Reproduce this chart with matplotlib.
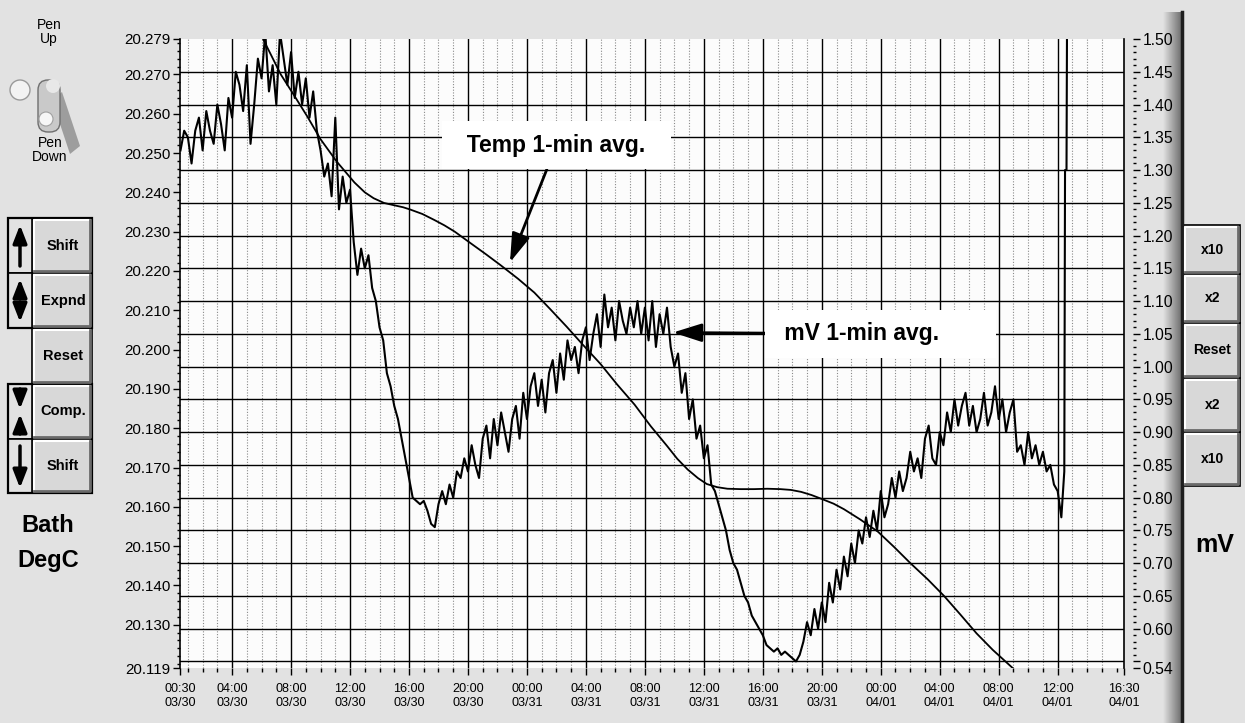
import numpy as np
import matplotlib
matplotlib.use("Agg")
import matplotlib.pyplot as plt
from matplotlib import font_manager
from matplotlib.patches import Rectangle, Circle, FancyBboxPatch, Polygon
from matplotlib.colors import LinearSegmentedColormap

# ---- data (x = hours since 03/30 00:00) ----
# mV 1-min avg, sampled every 0.25 h, one list per day
mv_0330_start = 0.5
mv_0330 = [1.33, 1.36,
           1.35, 1.31, 1.36, 1.38,
           1.33, 1.39, 1.36, 1.34,
           1.40, 1.37, 1.33, 1.41,
           1.38, 1.45, 1.43, 1.39,
           1.46, 1.34, 1.40, 1.47,
           1.44, 1.51, 1.42, 1.46,
           1.40, 1.51, 1.47, 1.43,
           1.48, 1.41, 1.45, 1.40,
           1.44, 1.38, 1.42, 1.36,
           1.33, 1.29, 1.31, 1.26,
           1.38, 1.24, 1.29, 1.25,
           1.27, 1.19, 1.14, 1.18,
           1.15, 1.17, 1.12, 1.10,
           1.06, 1.04, 0.99, 0.97,
           0.94, 0.92, 0.89, 0.86,
           0.83, 0.80, 0.795, 0.79,
           0.795, 0.78, 0.76, 0.755,
           0.79, 0.81, 0.79, 0.82,
           0.80, 0.84, 0.83, 0.86,
           0.84, 0.88, 0.85, 0.83,
           0.89, 0.91, 0.86, 0.92,
           0.88, 0.93, 0.90, 0.87,
           0.92, 0.94, 0.89, 0.96]
mv_0331_start = 24.0
mv_0331 = [0.92, 0.97, 0.99, 0.94,
           0.98, 0.93, 0.99, 1.01,
           0.96, 1.02, 0.98, 1.04,
           1.01, 1.03, 0.99, 1.04,
           1.06, 1.01, 1.05, 1.08,
           1.03, 1.11, 1.06, 1.09,
           1.04, 1.10, 1.07, 1.05,
           1.09, 1.06, 1.10, 1.05,
           1.09, 1.04, 1.10, 1.03,
           1.08, 1.05, 1.09, 1.03,
           1.00, 1.02, 0.96, 0.99,
           0.92, 0.95, 0.89, 0.91,
           0.86, 0.88, 0.82, 0.81,
           0.79, 0.77, 0.75, 0.72,
           0.70, 0.69, 0.67, 0.65,
           0.64, 0.62, 0.61, 0.60,
           0.59, 0.575, 0.57, 0.565,
           0.57, 0.56, 0.565, 0.56,
           0.555, 0.55, 0.56, 0.58,
           0.61, 0.59, 0.63, 0.60,
           0.64, 0.61, 0.67, 0.64,
           0.69, 0.66, 0.71, 0.68,
           0.73, 0.70, 0.75, 0.73,
           0.77, 0.74, 0.78, 0.75]
mv_0401_start = 48.0
mv_0401 = [0.81, 0.77, 0.79, 0.83,
           0.80, 0.84, 0.81, 0.83,
           0.87, 0.84, 0.86, 0.83,
           0.89, 0.91, 0.86, 0.85,
           0.90, 0.88, 0.93, 0.90,
           0.95, 0.91, 0.94, 0.96,
           0.91, 0.94, 0.90, 0.92,
           0.96, 0.91, 0.93, 0.97,
           0.92, 0.95, 0.90, 0.93,
           0.95, 0.87, 0.88, 0.85,
           0.90, 0.86, 0.88, 0.85,
           0.87, 0.84, 0.85, 0.82,
           0.81, 0.77]
mv_tail_h = [60.45, 60.50, 60.60, 60.65]
mv_tail = [0.84, 1.30, 1.30, 1.62]
mv_step = 0.25

# Temp 1-min avg (deg C)
temp_h = [5.6, 6.1, 6.7, 7.3, 8.2, 9.1, 10.0, 11.1, 12.3, 13.0, 13.6, 14.3, 15.0,
          15.6, 16.1, 16.9, 17.7, 18.4, 19.1, 20.2, 21.2, 22.2, 23.4, 24.5, 25.6,
          26.7, 27.8, 29.0, 30.1, 31.3, 32.4, 33.5, 34.2, 34.9, 35.6, 36.2, 36.9,
          37.6, 38.5, 39.4, 40.3, 41.2, 41.9, 42.6, 43.3, 44.0, 44.8, 45.5, 46.6,
          47.8, 48.9, 50.0, 51.2, 52.3, 53.4, 54.5, 55.6, 56.8, 57.7]
temp_c = [20.284, 20.279, 20.2745, 20.2700, 20.2647, 20.2593, 20.2535, 20.2478,
          20.2425, 20.2400, 20.2385, 20.2373, 20.2367, 20.2362, 20.2356, 20.2345,
          20.2330, 20.2316, 20.2300, 20.2270, 20.2243, 20.2215, 20.2180, 20.2145,
          20.2102, 20.2058, 20.2012, 20.1963, 20.1912, 20.1860, 20.1805, 20.1755,
          20.1722, 20.1695, 20.1673, 20.1658, 20.1650, 20.1646, 20.1645, 20.1645,
          20.1646, 20.1645, 20.1643, 20.1638, 20.1630, 20.1620, 20.1608, 20.1594,
          20.1568, 20.1537, 20.1498, 20.1457, 20.1415, 20.1373, 20.1326, 20.1278,
          20.1236, 20.1195, 20.1165]

xtick_hours = [0.5, 4, 8, 12, 16, 20, 24, 28, 32, 36, 40, 44, 48, 52, 56, 60, 64.5]
xtick_labels = ['00:30\n03/30', '04:00\n03/30', '08:00\n03/30', '12:00\n03/30',
                '16:00\n03/30', '20:00\n03/30', '00:00\n03/31', '04:00\n03/31',
                '08:00\n03/31', '12:00\n03/31', '16:00\n03/31', '20:00\n03/31',
                '00:00\n04/01', '04:00\n04/01', '08:00\n04/01', '12:00\n04/01',
                '16:30\n04/01']
temp_ticks = [20.119, 20.130, 20.140, 20.150, 20.160, 20.170, 20.180, 20.190,
              20.200, 20.210, 20.220, 20.230, 20.240, 20.250, 20.260, 20.270, 20.279]
mv_ticks = [0.54, 0.55, 0.60, 0.65, 0.70, 0.75, 0.80, 0.85, 0.90, 0.95, 1.00,
            1.05, 1.10, 1.15, 1.20, 1.25, 1.30, 1.35, 1.40, 1.45, 1.50]
mv_tick_labels = ['0.54', '', '0.60', '0.65', '0.70', '0.75', '0.80', '0.85', '0.90',
                  '0.95', '1.00', '1.05', '1.10', '1.15', '1.20', '1.25', '1.30',
                  '1.35', '1.40', '1.45', '1.50']

# ---- fonts ----
names = {f.name for f in font_manager.fontManager.ttflist}
NARROW = 'Liberation Sans Narrow' if 'Liberation Sans Narrow' in names else 'Liberation Sans'
SCALE = 1.0 if NARROW == 'Liberation Sans Narrow' else 0.87
plt.rcParams['font.family'] = ['Liberation Sans', 'DejaVu Sans']

BG = '#e2e2e2'
fig = plt.figure(figsize=(12.45, 7.23), dpi=100, facecolor=BG)

# ---- panel decorations in pixel coords ----
ui = fig.add_axes([0, 0, 1, 1], zorder=0)
ui.axis('off')


def button(x0, y0, x1, y1, label=None, fs=10.5):
    ui.add_patch(Rectangle((x0, y0), x1 - x0, y1 - y0, facecolor='#d8d8d8',
                           edgecolor='black', lw=1.2))
    ui.plot([x0 + 2, x0 + 2, x1 - 2], [y1 - 2, y0 + 2, y0 + 2], color='white', lw=1.5)
    ui.plot([x0 + 2, x1 - 2, x1 - 2], [y1 - 2, y1 - 2, y0 + 2], color='#6a6a6a', lw=2)
    if label:
        ui.text((x0 + x1) / 2 + 1, (y0 + y1) / 2, label, ha='center', va='center',
                fontsize=fs, fontweight='bold')


def icon_arrow(x, y_from, y_to):
    ui.annotate('', xy=(x, y_to), xytext=(x, y_from),
                arrowprops=dict(arrowstyle='-|>,head_length=0.9,head_width=0.35',
                                color='black', lw=2.5, mutation_scale=12,
                                shrinkA=0, shrinkB=0))


# pen switch
ui.text(49, 32, 'Pen\nUp', ha='center', va='center', fontsize=10, linespacing=1.0)
ui.add_patch(Polygon([(52, 100), (62, 92), (80, 146), (70, 154)],
                     facecolor='#8c8c8c', edgecolor='none', alpha=0.8))
ui.add_patch(Circle((20, 90), 10, facecolor='#f3f3f3', edgecolor='#9a9a9a', lw=1))
ui.add_patch(FancyBboxPatch((38, 80), 22, 52, boxstyle='round,pad=0,rounding_size=10',
                            facecolor='#c9c9c9', edgecolor='#6f6f6f', lw=1))
ui.add_patch(Circle((53, 86), 7, facecolor='#e8e8e8', edgecolor='none'))
ui.add_patch(Circle((46, 119), 7, facecolor='#f6f6f6', edgecolor='#a0a0a0', lw=0.8))
ui.text(50, 150, 'Pen\nDown', ha='center', va='center', fontsize=10, linespacing=1.0)

# left buttons
left_rows = [(218, 273, 'Shift'), (273, 328, 'Expnd'), (328, 384, 'Reset'),
             (384, 439, 'Comp.'), (439, 493, 'Shift')]
for y0, y1, lab in left_rows:
    button(32, y0, 92, y1, lab)
    if lab != 'Reset':
        ui.add_patch(Rectangle((8, y0), 24, y1 - y0, facecolor=BG, edgecolor='black', lw=1.2))
ui.add_patch(Rectangle((8, 218), 84, 110, facecolor='none', edgecolor='black', lw=1.6))
ui.add_patch(Rectangle((8, 384), 84, 109, facecolor='none', edgecolor='black', lw=1.6))
icon_arrow(20, 266, 225)
icon_arrow(20, 298, 279)
icon_arrow(20, 302, 322)
icon_arrow(20, 389, 409)
icon_arrow(20, 434, 414)
icon_arrow(20, 446, 488)
ui.text(48, 526, 'Bath', ha='center', va='center', fontsize=17, fontweight='bold')
ui.text(48, 561, 'DegC', ha='center', va='center', fontsize=17, fontweight='bold')

# right panel edge and buttons
shade = LinearSegmentedColormap.from_list('shade', [BG, '#6c6c6c'])
ui.imshow(np.linspace(0, 1, 60).reshape(1, -1), extent=(1163, 1182, 723, 12),
          cmap=shade, aspect='auto', zorder=0.5)
ui.plot([1182, 1182], [12, 723], color='#1e1e1e', lw=2.5)
right_rows = [(225, 274, 'x10'), (274, 323, 'x2'), (323, 378, 'Reset'),
              (378, 432, 'x2'), (432, 486, 'x10')]
for y0, y1, lab in right_rows:
    button(1183, y0, 1240, y1, lab, fs=10)
ui.text(1215, 545, 'mV', ha='center', va='center', fontsize=18, fontweight='bold')
ui.set_xlim(0, 1245)
ui.set_ylim(723, 0)

# ---- chart ----
ax = fig.add_axes([180.5 / 1245, (723 - 668) / 723, 943.5 / 1245, 629 / 723], zorder=1)
ax.set_facecolor('#fcfcfc')
ax2 = ax.twinx()

# grid
for h in range(1, 64):
    if h % 4:
        ax.axvline(h, color='#8a8a8a', lw=0.8, ls=(0, (1, 1.5)), zorder=0.4)
for h in range(4, 61, 4):
    ax.axvline(h, color='black', lw=1.0, zorder=0.5)
for v in mv_ticks[1:-1]:
    ax2.axhline(v, color='black', lw=1.0, zorder=0.5)

ax.plot(temp_h, temp_c, color='black', lw=1.3, zorder=2)

mv_t = np.concatenate([mv_0330_start + mv_step * np.arange(len(mv_0330)),
                       mv_0331_start + mv_step * np.arange(len(mv_0331)),
                       mv_0401_start + mv_step * np.arange(len(mv_0401)),
                       mv_tail_h])
mv_v = np.concatenate([mv_0330, mv_0331, mv_0401, mv_tail])
ax2.plot(mv_t, mv_v, color='black', lw=1.5, zorder=2)

ax.set_xlim(0.5, 64.5)
ax.set_ylim(20.119, 20.279)
ax2.set_ylim(0.54, 1.50)

for s in ['top', 'bottom']:
    ax.spines[s].set_visible(False)
ax.spines['left'].set_linewidth(1.2)
ax.spines['right'].set_linewidth(1.2)
for s in ax2.spines.values():
    s.set_visible(False)
ax2.spines['right'].set_position(('outward', 6.5))

ax.set_xticks(xtick_hours)
ax.set_xticklabels(xtick_labels)
ax.set_xticks(np.arange(1, 65), minor=True)
ax.tick_params(axis='x', which='major', length=5, width=1, pad=6,
               labelsize=10.5 * SCALE, labelfontfamily=NARROW)
ax.tick_params(axis='x', which='minor', length=3, width=1)

ax.set_yticks(temp_ticks)
ax.set_yticklabels([f'{v:.3f}' for v in temp_ticks])
ax.set_yticks(np.round(np.arange(20.120, 20.279, 0.002), 3), minor=True)
ax.tick_params(axis='y', which='major', length=5, width=1, pad=2,
               labelsize=12.5 * SCALE, labelfontfamily=NARROW)
ax.tick_params(axis='y', which='minor', length=2.5, width=1)

ax2.set_yticks(mv_ticks)
ax2.set_yticklabels(mv_tick_labels)
ax2.set_yticks(np.round(np.arange(0.55, 1.50, 0.01), 2), minor=True)
ax2.tick_params(axis='y', which='major', length=5, width=1, pad=2,
                labelsize=13 * SCALE, labelfontfamily=NARROW)
ax2.tick_params(axis='y', which='minor', length=2.5, width=1)

# annotations
arrow = dict(arrowstyle='-|>,head_length=1.1,head_width=0.35', color='black',
             lw=2, mutation_scale=16, shrinkA=0, shrinkB=0)
box = dict(boxstyle='square,pad=0.55', fc='white', ec='none')
ax2.annotate('  Temp 1-min avg.  ', xy=(22.85, 20.2222), xycoords=ax.transData,
             xytext=(26.0, 1.338), textcoords='data', ha='center', va='center',
             fontsize=16.5, fontweight='bold', bbox=box, arrowprops=arrow, zorder=5)
ax2.annotate(' mV 1-min avg.       ', xy=(33.9, 1.052), xytext=(48.0, 1.05),
             ha='center', va='center', fontsize=16.5, fontweight='bold',
             bbox=box, arrowprops=arrow, zorder=5)

fig.savefig('out.png', dpi=100, facecolor=BG)
